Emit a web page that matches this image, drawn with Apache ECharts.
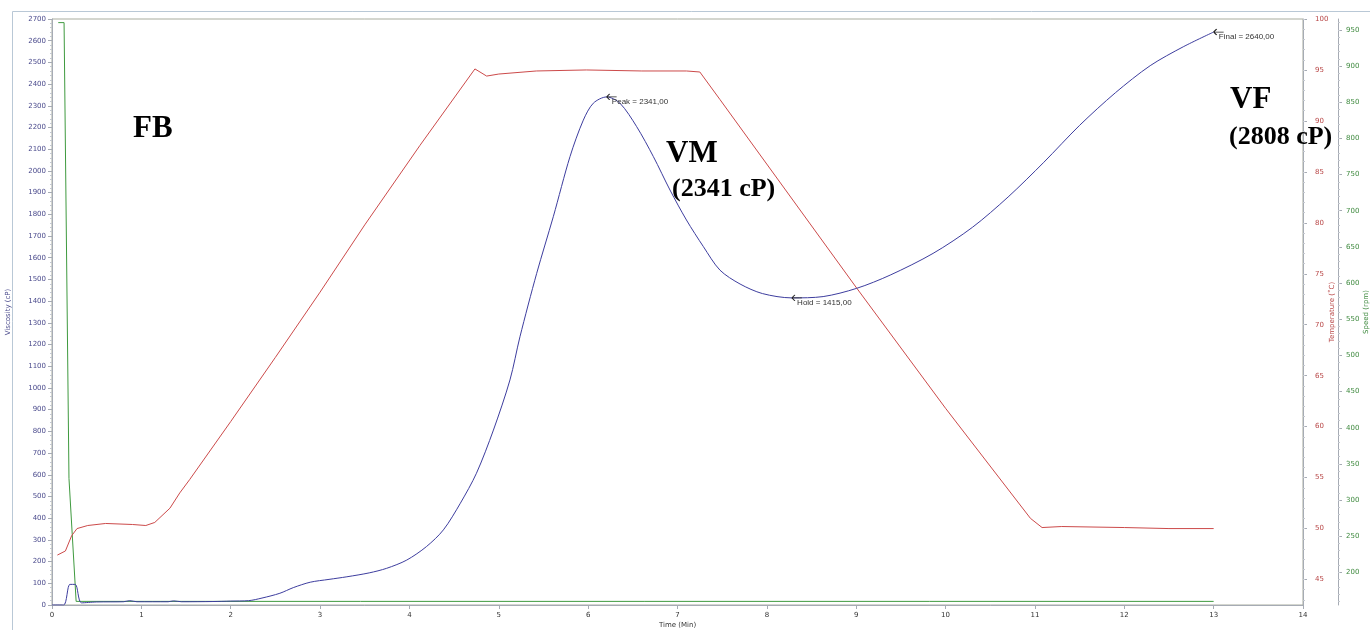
<!DOCTYPE html>
<html>
<head>
<meta charset="utf-8">
<script src="https://cdn.jsdelivr.net/npm/echarts@6/dist/echarts.min.js"></script>
<style>html,body{margin:0;padding:0;background:#fff}#c{width:1370px;height:630px}</style>
</head>
<body>
<div id="c"></div>
<script>
// ---- data ----
const viscTime = [0,0.13,0.2,0.26,0.33,0.5,0.8,0.87,0.95,1.3,1.36,1.45,1.8,2.0,2.2,2.35,2.55,2.7,2.89,3.1,3.3,3.55,3.745,3.97,4.19,4.38,4.57,4.75,4.94,5.125,5.237,5.424,5.61,5.797,5.946,6.058,6.207,6.356,6.543,6.73,6.916,7.1,7.29,7.475,7.7,7.95,8.28,8.63,9.005,9.38,9.86,10.3,10.7,11.1,11.5,11.9,12.29,12.66,13.0];
const viscCp   = [0,0,95,95,10,14,15,20,15,15,19,15,16,18,20,32,54,80,105,118,130,148,169,207,269,346,469,607,806,1037,1236,1528,1789,2066,2234,2312,2341,2312,2204,2066,1912,1774,1651,1543,1479,1435,1415,1421,1459,1520,1620,1740,1880,2040,2210,2360,2485,2572,2640];

const tempTime = [0.06,0.15,0.22,0.28,0.4,0.6,0.9,1.05,1.15,1.32,1.43,1.54,2.0,2.5,3.0,3.5,4.118,4.733,4.864,5.0,5.42,5.98,6.6,7.1,7.25,7.475,9.005,10.0,10.95,11.08,11.3,12.0,12.5,13.0];
const tempC    = [47.4,47.8,49.3,50.0,50.3,50.5,50.4,50.3,50.6,52.0,53.5,54.8,60.5,66.8,73.2,79.8,87.6,95.1,94.4,94.6,94.9,95.0,94.9,94.9,94.8,92.1,73.6,61.8,51.0,50.1,50.2,50.1,50.0,50.0];

const speedTime = [0.07,0.135,0.19,0.27,13.0];
const speedRpm  = [960,960,330,160,160];

const tempTicks  = [45,50,55,60,65,70,75,80,85,90,95,100];
const speedTicks = [200,250,300,350,400,450,500,550,600,650,700,750,800,850,900,950];

const peakPoint  = {t: 6.207, v: 2341, text: 'Peak = 2341,00'};
const holdPoint  = {t: 8.28,  v: 1415, text: 'Hold = 1415,00'};
const finalPoint = {t: 13.0,  v: 2640, text: 'Final = 2640,00'};

// ---- build ----
const zip = (a, b) => a.map((x, i) => [x, b[i]]);
const range = (a, b, s) => { const r = []; for (let v = a; v <= b + 1e-9; v += s) r.push(+v.toFixed(4)); return r; };
const tempMinor = range(43, 100, 1);
const speedMinor = range(160, 960, 10);
const plain = v => String(v);

const FONT = '"DejaVu Sans", Verdana, sans-serif';
const BLUE = '#3d3d9e', RED = '#cc4a4a', GREEN = '#3f9a3f';
const AXC = '#a6abb4';

const arrow = 'path://M0,3 L3,0 M0,3 L3,6 M0,3 L10,3';
function mp(p) {
  return {
    coord: [p.t, p.v], value: p.text,
    symbol: arrow, symbolSize: [10, 6], symbolOffset: [5, 0],
    itemStyle: {color: 'none', borderColor: '#222', borderWidth: 1},
    label: {show: true, position: 'right', distance: 0, offset: [-8, 5], formatter: p.text,
            color: '#333', fontSize: 8, fontFamily: '"Liberation Sans", Arial, sans-serif'}
  };
}

const chart = echarts.init(document.getElementById('c'), null, {renderer: 'canvas'});
chart.setOption({
  animation: false,
  backgroundColor: '#fff',
  grid: {left: 52, right: 67, top: 19, bottom: 25, containLabel: false, outerBoundsMode: 'none',
         show: true, borderColor: '#a9ad9f', borderWidth: 1, backgroundColor: 'transparent'},
  xAxis: {
    type: 'value', min: 0, max: 14, interval: 1,
    axisLine: {show: true, onZero: false, lineStyle: {color: AXC}},
    axisTick: {show: true, length: 4, lineStyle: {color: AXC}},
    axisLabel: {fontSize: 7, color: '#333', fontFamily: FONT, margin: 7, formatter: plain},
    splitLine: {show: false},
    name: 'Time (Min)', nameLocation: 'middle', nameGap: 17, nameMoveOverlap: false,
    nameTextStyle: {fontSize: 7, color: '#333', fontFamily: FONT}
  },
  yAxis: [
    {
      type: 'value', position: 'left', min: 0, max: 2700, interval: 100,
      axisLine: {show: true, lineStyle: {color: AXC}},
      axisTick: {show: true, length: 4, lineStyle: {color: AXC}},
      minorTick: {show: true, splitNumber: 5, length: 2, lineStyle: {color: '#c4c8cf'}},
      axisLabel: {fontSize: 7, color: '#4a4a8c', fontFamily: FONT, margin: 6, formatter: plain},
      splitLine: {show: false}, minorSplitLine: {show: false},
      name: 'Viscosity (cP)', nameLocation: 'middle', nameRotate: 90, nameGap: 40, nameMoveOverlap: false,
      nameTextStyle: {fontSize: 7, color: '#4a4a8c', fontFamily: FONT}
    },
    {
      type: 'value', position: 'right', min: 42.5, max: 100,
      axisLine: {show: true, lineStyle: {color: AXC}},
      axisTick: {show: true, length: 4, customValues: tempTicks, lineStyle: {color: AXC}},
      axisLabel: {customValues: tempTicks, fontSize: 7, color: '#b84646', fontFamily: FONT, margin: 12, formatter: plain},
      splitLine: {show: false},
      name: 'Temperature (˚C)', nameLocation: 'middle', nameRotate: 90, nameGap: 26, nameMoveOverlap: false,
      nameTextStyle: {fontSize: 7, color: '#b84646', fontFamily: FONT}
    },
    {
      type: 'value', position: 'right', min: 42.5, max: 100,
      axisLine: {show: false},
      axisTick: {show: true, length: 2, customValues: tempMinor, lineStyle: {color: '#c4c8cf'}},
      axisLabel: {show: false}, splitLine: {show: false}
    },
    {
      type: 'value', position: 'right', offset: 35, min: 155, max: 965,
      axisLine: {show: true, lineStyle: {color: AXC}},
      axisTick: {show: true, length: 4, customValues: speedTicks, lineStyle: {color: AXC}},
      axisLabel: {customValues: speedTicks, fontSize: 7, color: '#3f8a3f', fontFamily: FONT, margin: 8, formatter: plain},
      splitLine: {show: false},
      name: 'Speed (rpm)', nameLocation: 'middle', nameRotate: 90, nameGap: 25, nameMoveOverlap: false,
      nameTextStyle: {fontSize: 7, color: '#3f8a3f', fontFamily: FONT}
    },
    {
      type: 'value', position: 'right', offset: 35, min: 155, max: 965,
      axisLine: {show: false},
      axisTick: {show: true, length: 2, customValues: speedMinor, lineStyle: {color: '#c4c8cf'}},
      axisLabel: {show: false}, splitLine: {show: false}
    }
  ],
  series: [
    {
      name: 'Speed', type: 'line', yAxisIndex: 3, data: zip(speedTime, speedRpm),
      showSymbol: false, lineStyle: {color: GREEN, width: 1}, itemStyle: {color: GREEN}, z: 2
    },
    {
      name: 'Temperature', type: 'line', yAxisIndex: 1, data: zip(tempTime, tempC),
      showSymbol: false, lineStyle: {color: RED, width: 1}, itemStyle: {color: RED}, z: 3
    },
    {
      name: 'Viscosity', type: 'line', yAxisIndex: 0, data: zip(viscTime, viscCp),
      showSymbol: false, smooth: 0.3,
      lineStyle: {color: BLUE, width: 1}, itemStyle: {color: BLUE}, z: 4,
      markPoint: {silent: true, data: [mp(peakPoint), mp(holdPoint), mp(finalPoint)]}
    }
  ],
  graphic: [
    {type: 'rect', silent: true, z: -10, shape: {x: 12.5, y: 11.5, width: 1500, height: 800},
     style: {fill: 'none', stroke: '#b9c8d6', lineWidth: 1}},
    {type: 'text', x: 133, y: 128.5, style: {text: 'FB', font: 'bold 31px "Liberation Serif", serif', fill: '#000', verticalAlign: 'middle'}},
    {type: 'text', x: 666, y: 153.5, style: {text: 'VM', font: 'bold 31px "Liberation Serif", serif', fill: '#000', verticalAlign: 'middle'}},
    {type: 'text', x: 672, y: 189, style: {text: '(2341 cP)', font: 'bold 26px "Liberation Serif", serif', fill: '#000', verticalAlign: 'middle'}},
    {type: 'text', x: 1230, y: 100, style: {text: 'VF', font: 'bold 31px "Liberation Serif", serif', fill: '#000', verticalAlign: 'middle'}},
    {type: 'text', x: 1229, y: 137, z: 100, style: {text: '(2808 cP)', font: 'bold 26px "Liberation Serif", serif', fill: '#000', verticalAlign: 'middle'}}
  ]
});
</script>
</body>
</html>
